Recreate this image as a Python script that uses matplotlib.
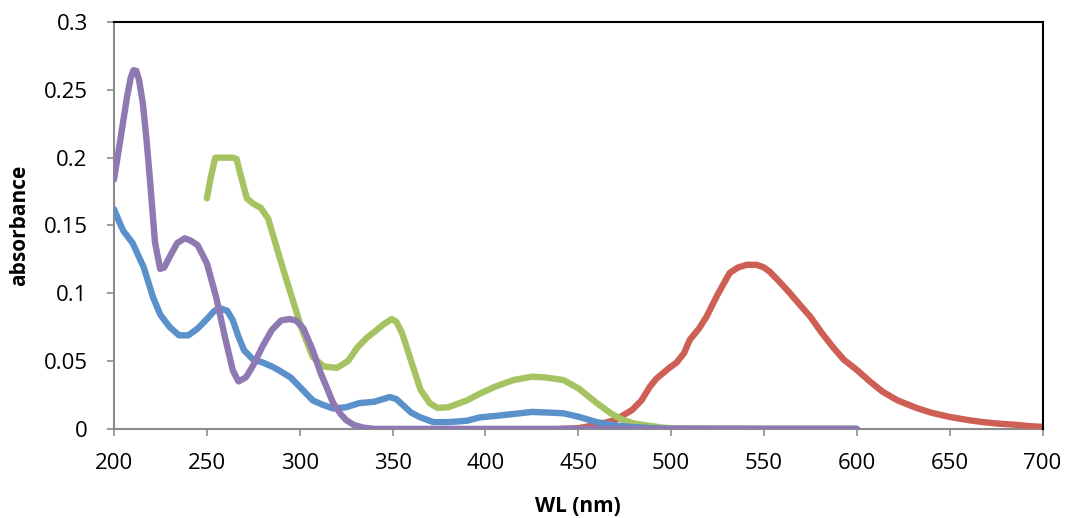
import numpy as np
import matplotlib
matplotlib.use('Agg')
import matplotlib.pyplot as plt

# values
blue_wl = [200, 203, 205, 210, 216, 221, 225, 230, 235, 240, 245, 250, 254, 257, 261, 264, 267, 270, 275, 280,
           285, 289, 295, 300, 307, 312, 318, 325, 332, 340, 348.5, 352, 356, 360, 365, 372, 380, 390, 397,
           405, 415, 425, 435, 442, 450, 460, 470, 478, 490, 500, 550, 600]
blue_ab = [0.162, 0.152, 0.146, 0.137, 0.119, 0.097, 0.084, 0.075, 0.069, 0.069, 0.074, 0.081, 0.087, 0.089, 0.087,
           0.080, 0.068, 0.058, 0.051, 0.049, 0.046, 0.043, 0.038, 0.031, 0.021, 0.018, 0.015, 0.016, 0.019,
           0.020, 0.0235, 0.022, 0.017, 0.012, 0.0085, 0.005, 0.005, 0.006, 0.0085, 0.0095, 0.011, 0.0125,
           0.012, 0.0115, 0.009, 0.005, 0.0025, 0.0015, 0.0005, 0.0, 0.0, 0.0]

green_wl = [250, 252, 254.5, 258, 264, 266, 268, 271.5, 275, 279, 283, 286, 291, 296, 301, 307, 313, 320, 326, 331,
            336, 341.5, 345, 349.5, 352, 355, 360, 365, 370, 374, 380, 390, 397, 405, 415, 425, 432, 442, 450,
            460, 468, 474, 480, 487, 495, 500, 550, 600]
green_ab = [0.170, 0.185, 0.200, 0.200, 0.200, 0.199, 0.188, 0.170, 0.166, 0.163, 0.155, 0.141, 0.118, 0.096, 0.074,
            0.053, 0.046, 0.045, 0.050, 0.060, 0.067, 0.073, 0.077, 0.081, 0.079, 0.071, 0.050, 0.029, 0.019,
            0.0155, 0.016, 0.021, 0.026, 0.031, 0.036, 0.0385, 0.038, 0.036, 0.030, 0.019, 0.011, 0.0066, 0.004,
            0.0025, 0.001, 0.0005, 0.0, 0.0]

purple_wl = [200, 203, 207, 209, 210.5, 212, 213.5, 215.5, 217.5, 219.5, 222, 224.8, 227, 230, 234, 238, 241, 245,
             250, 255, 260, 264, 267, 271, 275, 280, 285, 290, 294.5, 298, 302, 307, 311, 315, 318, 322, 325,
             329, 334, 340, 400, 500, 600]
purple_ab = [0.184, 0.210, 0.245, 0.259, 0.2645, 0.264, 0.257, 0.240, 0.213, 0.181, 0.138, 0.118, 0.119, 0.127,
             0.137, 0.1405, 0.139, 0.1355, 0.122, 0.097, 0.066, 0.043, 0.035, 0.038, 0.047, 0.061, 0.073, 0.080,
             0.081, 0.080, 0.074, 0.058, 0.042, 0.029, 0.019, 0.011, 0.0065, 0.003, 0.001, 0.0, 0.0, 0.0, 0.0]

red_wl = [440, 450, 460, 470, 479, 484, 488.5, 492, 495.5, 499, 503, 507, 510, 515, 519, 525, 531.5, 536, 540.7,
          546, 550, 553, 558, 564, 569, 575, 581, 587, 593, 600, 607, 614, 622, 632, 640, 650, 660, 668, 677,
          686, 693, 700]
red_ab = [0.0, 0.0005, 0.003, 0.0066, 0.014, 0.021, 0.031, 0.037, 0.041, 0.045, 0.049, 0.056, 0.0656, 0.074, 0.0826,
          0.099, 0.115, 0.119, 0.121, 0.121, 0.119, 0.116, 0.109, 0.100, 0.092, 0.0826, 0.071, 0.0605, 0.051,
          0.0435, 0.035, 0.0273, 0.021, 0.0155, 0.012, 0.0088, 0.0065, 0.005, 0.0038, 0.003, 0.002, 0.0015]

x_ticks = [200, 250, 300, 350, 400, 450, 500, 550, 600, 650, 700]
y_ticks = [0, 0.05, 0.1, 0.15, 0.2, 0.25, 0.3]
y_labels = ['0', '0.05', '0.1', '0.15', '0.2', '0.25', '0.3']

plt.rcParams['font.family'] = ['Open Sans', 'DejaVu Sans']

fig = plt.figure(figsize=(10.66, 5.18), dpi=100)
ax = fig.add_axes([0.107, 0.172, 0.871, 0.7855])

lw = 4.6
kw = dict(linewidth=lw, solid_joinstyle='round', solid_capstyle='round')
ax.plot(red_wl, red_ab, color='#CE5F55', **kw)
ax.plot(green_wl, green_ab, color='#A6C362', **kw)
ax.plot(blue_wl, blue_ab, color='#5A91CA', **kw)
ax.plot(purple_wl, purple_ab, color='#8E79B3', **kw)

ax.set_xlim(200, 700)
ax.set_ylim(0, 0.3)
ax.set_xticks(x_ticks)
ax.set_yticks(y_ticks)
ax.set_yticklabels(y_labels)

for s in ['top', 'right']:
  ax.spines[s].set_color('black')
  ax.spines[s].set_linewidth(1.5)
for s in ['left', 'bottom']:
  ax.spines[s].set_color('#8C8C8C')
  ax.spines[s].set_linewidth(1.5)
  ax.spines[s].set_zorder(0)

ax.tick_params(direction='out', length=5, width=1.2, color='#8C8C8C', labelsize=16)
ax.tick_params(axis='y', pad=14)
ax.tick_params(axis='x', pad=12)
ax.set_xlabel('WL (nm)', fontsize=15, fontweight='bold', labelpad=16)
ax.set_ylabel('absorbance', fontsize=15, fontweight='bold', labelpad=10)

fig.savefig('out.png', dpi=100)
